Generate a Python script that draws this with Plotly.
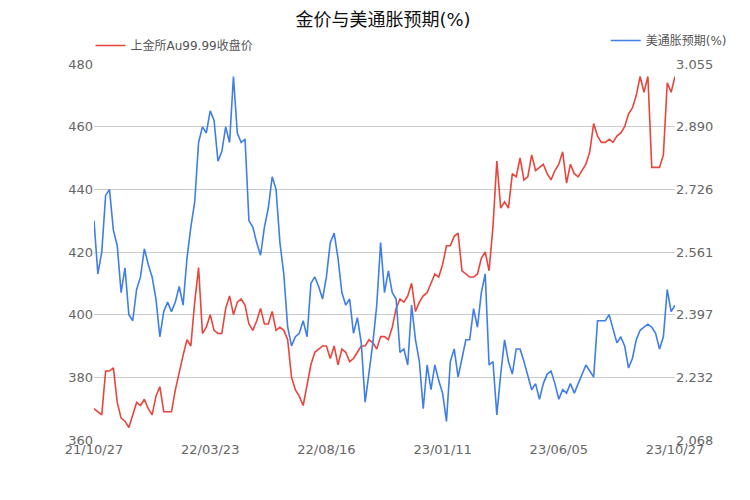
import plotly.graph_objects as go

tick_labels = ['21/10/27', '22/03/23', '22/08/16', '23/01/11', '23/06/05', '23/10/27']
tick_index = [0, 30, 60, 90, 120, 150]

gold = [370, 369, 368, 382, 382, 383, 372, 367, 366, 364, 368, 372, 371, 373, 370, 368, 374, 377, 369, 369,
        369, 376, 382, 387, 392, 390, 404, 415, 394, 396, 400, 395, 394, 394, 402, 406, 400, 404, 405, 403,
        397, 395, 398, 402, 397, 397, 401, 395, 396, 395, 392, 380, 376, 374, 371, 377, 384, 388, 389, 390,
        390, 386, 390, 384, 389, 388, 385, 386, 388, 390, 390, 392, 391, 389, 393, 393, 392, 396, 402, 405,
        404, 406, 410, 401, 404, 406, 407, 410, 413, 412, 416, 422, 422, 425, 426, 414, 413, 412, 412, 413,
        418, 420, 414, 428, 449, 434, 436, 434, 445, 444, 450, 443, 444, 451, 446, 447, 448, 445, 443, 446,
        448, 452, 442, 448, 445, 444, 446, 448, 452, 461, 457, 455, 455, 456, 455, 457, 458, 460, 464, 466,
        470, 476, 471, 476, 447, 447, 447, 451, 474, 471, 476]

inflation = [2.644, 2.504, 2.561, 2.710, 2.726, 2.619, 2.578, 2.455, 2.520, 2.397, 2.381, 2.463, 2.496, 2.570,
             2.529, 2.496, 2.438, 2.339, 2.405, 2.430, 2.405, 2.430, 2.471, 2.422, 2.545, 2.627, 2.693, 2.849,
             2.890, 2.874, 2.932, 2.907, 2.800, 2.825, 2.890, 2.849, 3.022, 2.874, 2.849, 2.858, 2.644, 2.627,
             2.586, 2.553, 2.627, 2.677, 2.759, 2.726, 2.586, 2.504, 2.364, 2.315, 2.339, 2.348, 2.381, 2.339,
             2.479, 2.496, 2.471, 2.438, 2.496, 2.586, 2.611, 2.545, 2.455, 2.422, 2.438, 2.348, 2.389, 2.323,
             2.167, 2.249, 2.323, 2.422, 2.586, 2.455, 2.512, 2.455, 2.438, 2.298, 2.307, 2.265, 2.422, 2.331,
             2.274, 2.150, 2.265, 2.200, 2.265, 2.224, 2.191, 2.117, 2.274, 2.307, 2.233, 2.282, 2.331, 2.331,
             2.413, 2.364, 2.455, 2.504, 2.265, 2.274, 2.134, 2.241, 2.331, 2.274, 2.241, 2.307, 2.307, 2.274,
             2.233, 2.200, 2.216, 2.175, 2.216, 2.241, 2.249, 2.216, 2.175, 2.200, 2.191, 2.216, 2.191, 2.216,
             2.241, 2.265, 2.249, 2.233, 2.381, 2.381, 2.381, 2.397, 2.356, 2.323, 2.339, 2.315, 2.257, 2.282,
             2.331, 2.356, 2.364, 2.372, 2.364, 2.348, 2.307, 2.339, 2.463, 2.405, 2.422]

left_ticks = [360, 380, 400, 420, 440, 460, 480]
right_ticks = [2.068, 2.232, 2.397, 2.561, 2.726, 2.890, 3.055]

x = list(range(len(gold)))
font = "DejaVu Sans, Noto Sans CJK SC, sans-serif"

fig = go.Figure()
fig.add_trace(go.Scatter(x=x, y=gold, name='上金所Au99.99收盘价', mode='lines',
                         line=dict(color='#e8453c', width=1.6), legend='legend'))
fig.add_trace(go.Scatter(x=list(range(len(inflation))), y=inflation, name='美通胀预期(%)', mode='lines',
                         line=dict(color='#3f7ee8', width=1.6), yaxis='y2', legend='legend2'))

fig.update_layout(
    width=750, height=500, showlegend=True,
    margin=dict(l=86, r=83, t=56, b=68, autoexpand=False),
    plot_bgcolor='white', paper_bgcolor='white',
    font=dict(family=font, color='#666666', size=13),
    title=dict(text='金价与美通胀预期(%)', x=0.5, y=0.99, xanchor='center', yanchor='top',
               font=dict(size=18, color='#111111')),
    xaxis=dict(range=[0, 150], tickvals=tick_index, ticktext=tick_labels, showgrid=False,
               zeroline=False, showline=False, ticks=''),
    yaxis=dict(range=[360, 480], tickvals=left_ticks, showgrid=True, gridcolor='#cccccc',
               zeroline=False, ticks=''),
    yaxis2=dict(range=[2.068, 3.055], tickvals=right_ticks, tickformat='.3f', overlaying='y',
                side='right', showgrid=False, zeroline=False, ticks=''),
    legend=dict(x=0.11, y=0.925, xref='container', yref='container', xanchor='left', yanchor='middle',
                orientation='h', font=dict(size=12, color='#555555'), bgcolor='rgba(0,0,0,0)'),
    legend2=dict(x=0.965, y=0.935, xref='container', yref='container', xanchor='right', yanchor='middle',
                 orientation='h', font=dict(size=12, color='#555555'), bgcolor='rgba(0,0,0,0)'),
)

fig.write_html("out.html")
